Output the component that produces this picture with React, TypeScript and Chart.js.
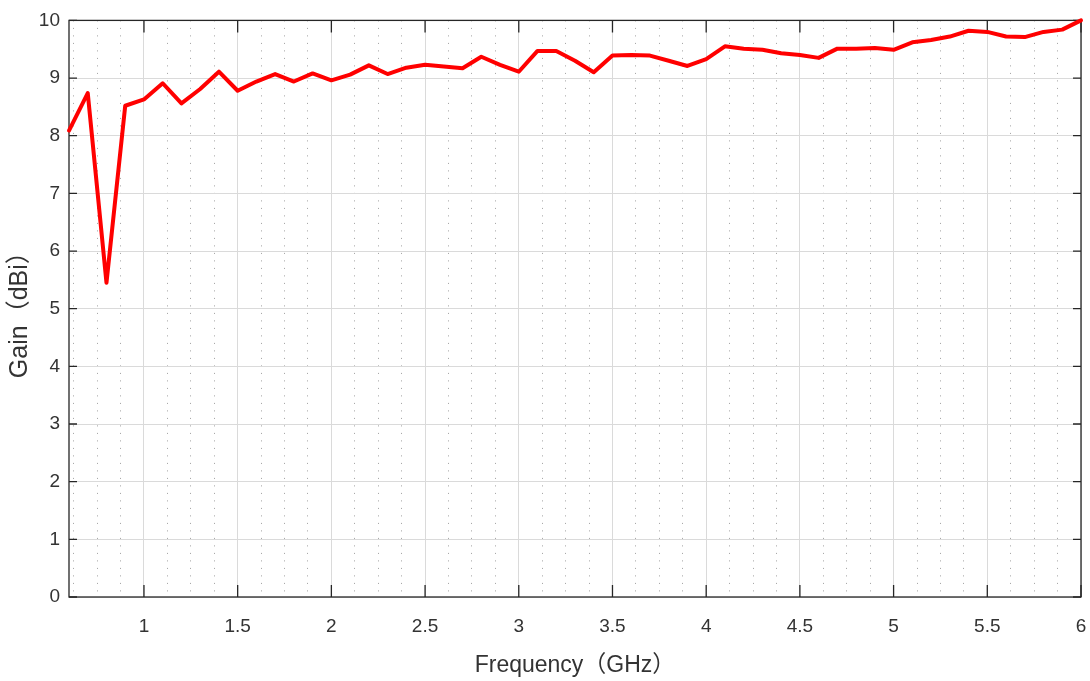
import React, { useEffect, useRef } from 'react';
import { Chart, registerables } from 'chart.js';

Chart.register(...registerables);

// ---- Data ----
const frequencyGHz = [
  0.6, 0.7, 0.8, 0.9, 1.0, 1.1, 1.2, 1.3, 1.4, 1.5,
  1.6, 1.7, 1.8, 1.9, 2.0, 2.1, 2.2, 2.3, 2.4, 2.5,
  2.6, 2.7, 2.8, 2.9, 3.0, 3.1, 3.2, 3.3, 3.4, 3.5,
  3.6, 3.7, 3.8, 3.9, 4.0, 4.1, 4.2, 4.3, 4.4, 4.5,
  4.6, 4.7, 4.8, 4.9, 5.0, 5.1, 5.2, 5.3, 5.4, 5.5,
  5.6, 5.7, 5.8, 5.9, 6.0,
];

const gainDBi = [
  8.09, 8.74, 5.45, 8.52, 8.63, 8.91, 8.56, 8.81, 9.11, 8.78,
  8.94, 9.07, 8.94, 9.08, 8.96, 9.06, 9.22, 9.07, 9.18, 9.23,
  9.20, 9.17, 9.37, 9.23, 9.11, 9.47, 9.47, 9.30, 9.10, 9.39,
  9.40, 9.39, 9.30, 9.21, 9.33, 9.55, 9.51, 9.49, 9.43, 9.40,
  9.35, 9.51, 9.51, 9.52, 9.49, 9.62, 9.66, 9.72, 9.82, 9.80,
  9.72, 9.71, 9.80, 9.84, 10.0,
];

const xMajorTicks = [1, 1.5, 2, 2.5, 3, 3.5, 4, 4.5, 5, 5.5, 6];
const xMinorStep = 0.125;
const yTicks = [0, 1, 2, 3, 4, 5, 6, 7, 8, 9, 10];
const xMin = 0.6;
const xMax = 6;
const yMin = 0;
const yMax = 10;
const xTitle = 'Frequency（GHz）';
const yTitle = 'Gain（dBi）';

// ---- Helpers ----
const FONT = '"Liberation Sans", Arial, "Noto Sans CJK SC", sans-serif';
const TEXT_COLOR = '#333333';

const isMajorX = (v: number) =>
  xMajorTicks.some((m) => Math.abs(m - v) < 1e-6);

const xGridTicks: number[] = (() => {
  const out: number[] = [];
  const start = Math.ceil(xMin / xMinorStep);
  const end = Math.floor(xMax / xMinorStep + 1e-9);
  for (let k = start; k <= end; k++) out.push(k * xMinorStep);
  return out;
})();

const framePlugin = {
  id: 'matlabFrame',
  beforeDatasetsDraw(chart: any) {
    const { ctx, chartArea, scales } = chart;
    const { left, right, top, bottom } = chartArea;
    const xs = scales.x;
    const ys = scales.y;
    ctx.save();
    ctx.strokeStyle = '#262626';
    ctx.lineWidth = 1.3;
    ctx.strokeRect(left, top, right - left, bottom - top);
    ctx.beginPath();
    for (const v of xMajorTicks) {
      const px = xs.getPixelForValue(v);
      ctx.moveTo(px, bottom);
      ctx.lineTo(px, bottom - 12);
      ctx.moveTo(px, top);
      ctx.lineTo(px, top + 12);
    }
    for (const v of yTicks) {
      const py = ys.getPixelForValue(v);
      ctx.moveTo(left, py);
      ctx.lineTo(left + 8, py);
      ctx.moveTo(right, py);
      ctx.lineTo(right - 8, py);
    }
    ctx.stroke();
    ctx.restore();
  },
};

export default function App() {
  const canvasRef = useRef<HTMLCanvasElement | null>(null);

  useEffect(() => {
    if (!canvasRef.current) return;
    const chart = new Chart(canvasRef.current, {
      type: 'line',
      data: {
        datasets: [
          {
            data: frequencyGHz.map((f, i) => ({ x: f, y: gainDBi[i] })),
            borderColor: '#ff0000',
            borderWidth: 4,
            borderJoinStyle: 'round',
            borderCapStyle: 'round',
            pointRadius: 0,
            tension: 0,
            clip: false as any,
          },
        ],
      },
      options: {
        animation: false,
        responsive: false,
        devicePixelRatio: 1,
        layout: { padding: { left: 0, right: 9, top: 18, bottom: 0 } },
        plugins: {
          legend: { display: false },
          tooltip: { enabled: false },
        },
        scales: {
          x: {
            type: 'linear',
            min: xMin,
            max: xMax,
            afterBuildTicks: (s: any) => {
              s.ticks = xGridTicks.map((v) => ({ value: v }));
            },
            afterFit: (s: any) => {
              s.height = 84;
              s.paddingLeft = 0;
              s.paddingRight = 0;
            },
            ticks: {
              autoSkip: false,
              maxRotation: 0,
              minRotation: 0,
              padding: 18,
              color: TEXT_COLOR,
              font: { family: FONT, size: 19 },
              callback: (v: any) => (isMajorX(Number(v)) ? String(Number(v)) : ''),
            },
            grid: {
              drawTicks: false,
              lineWidth: 1,
              color: (ctx: any) =>
                ctx.tick && isMajorX(ctx.tick.value) ? '#dadada' : '#a0a0a0',
            },
            border: {
              display: false,
              dash: (ctx: any) =>
                ctx.tick && !isMajorX(ctx.tick.value) ? [1, 6.5] : [],
            } as any,
            title: {
              display: true,
              text: xTitle,
              color: TEXT_COLOR,
              font: { family: FONT, size: 23 },
              padding: { top: 0, bottom: 2 },
            },
          },
          y: {
            type: 'linear',
            min: yMin,
            max: yMax,
            afterBuildTicks: (s: any) => {
              s.ticks = yTicks.map((v) => ({ value: v }));
            },
            afterFit: (s: any) => {
              s.width = 69;
            },
            ticks: {
              padding: 9,
              color: TEXT_COLOR,
              font: { family: FONT, size: 19 },
            },
            grid: {
              drawTicks: false,
              lineWidth: 1,
              color: '#dadada',
            },
            border: { display: false },
            title: {
              display: true,
              text: yTitle,
              color: TEXT_COLOR,
              font: { family: FONT, size: 25 },
              padding: { top: 5, bottom: 0 },
            },
          },
        },
      },
      plugins: [framePlugin],
    } as any);
    return () => chart.destroy();
  }, []);

  return (
    <div style={{ position: 'absolute', left: 0, top: 0, width: 1090, height: 681, background: '#fff' }}>
      <canvas ref={canvasRef} width={1090} height={681} style={{ display: 'block' }} />
    </div>
  );
}
